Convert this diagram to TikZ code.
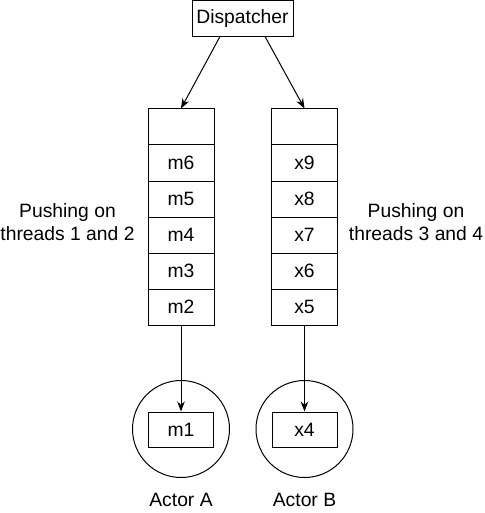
\documentclass[tikz,border=0pt]{standalone}
\usepackage{fontspec}
\setmainfont{Liberation Sans}
\usetikzlibrary{arrows.meta}
\begin{document}
\begin{tikzpicture}[x=1pt,y=-1pt,
  every node/.style={font=\fontsize{19.3}{23}\selectfont},
  cell/.style={draw,line width=1pt,minimum width=66pt,minimum height=36pt,inner sep=0pt},
  inbox/.style={draw,line width=1pt,minimum width=65pt,minimum height=35pt,inner sep=0pt},
  actor/.style={draw,circle,line width=1pt,minimum size=97pt,inner sep=0pt},
  arr/.style={line width=1pt,-{Stealth[length=10pt,width=7.5pt]}},
  lbl/.style={align=center,inner sep=0pt}]
\useasboundingbox (0,0) rectangle (484,513);
\node[draw,line width=1pt,minimum width=101pt,minimum height=36pt,inner sep=0pt] (disp) at (242.5,18.5) {Dispatcher};
% left queue
\node[cell] (a0) at (181,127) {};
\node[cell] (a1) at (181,163) {m6};
\node[cell] (a2) at (181,199) {m5};
\node[cell] (a3) at (181,235) {m4};
\node[cell] (a4) at (181,271) {m3};
\node[cell] (a5) at (181,307) {m2};
% right queue
\node[cell] (b0) at (304.5,127) {};
\node[cell] (b1) at (304.5,163) {x9};
\node[cell] (b2) at (304.5,199) {x8};
\node[cell] (b3) at (304.5,235) {x7};
\node[cell] (b4) at (304.5,271) {x6};
\node[cell] (b5) at (304.5,307) {x5};
% actors
\node[actor] (ca) at (181,429) {};
\node[actor] (cb) at (304.5,429) {};
\node[inbox] (m1) at (181,429.5) {m1};
\node[inbox] (x4) at (304.5,429.5) {x4};
\node[lbl] (la) at (181,500) {Actor A};
\node[lbl] (lb) at (304.5,500) {Actor B};
% side labels
\node[lbl] (pl) at (67.5,222.5) {Pushing on\\threads 1 and 2};
\node[lbl] (pr) at (416,222.5) {Pushing on\\threads 3 and 4};
% arrows
\draw[arr] (220,36.5) -- (a0.north);
\draw[arr] (265,36.5) -- (b0.north);
\draw[arr] (a5.south) -- (m1.north);
\draw[arr] (b5.south) -- (x4.north);
\end{tikzpicture}
\end{document}
